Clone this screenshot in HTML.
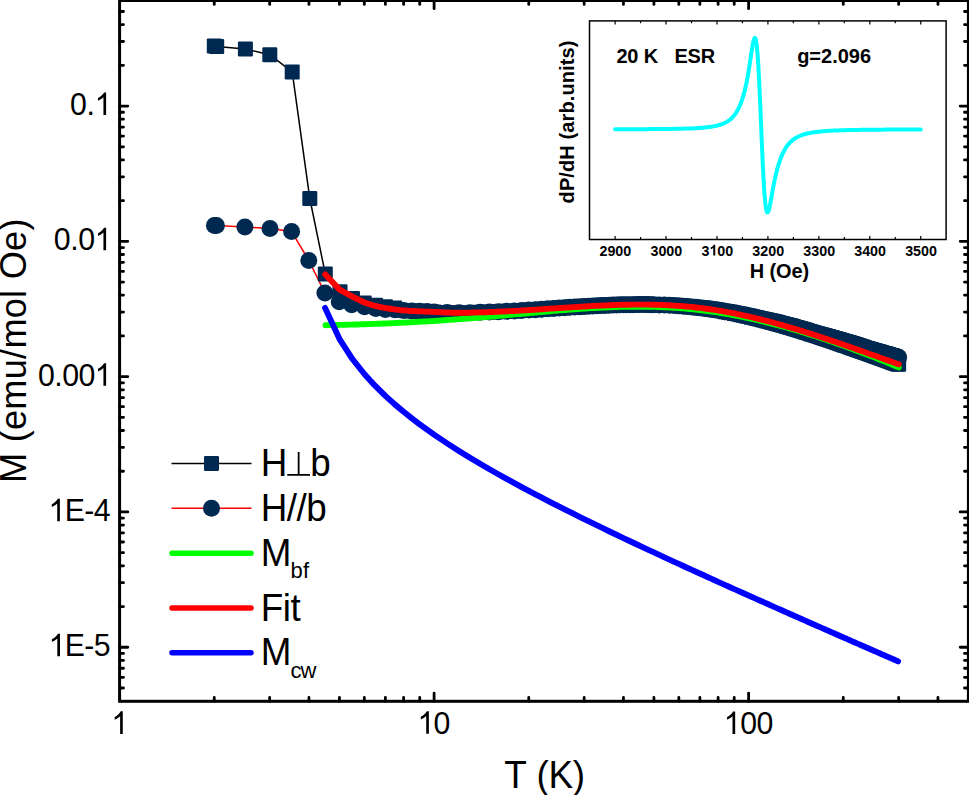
<!DOCTYPE html>
<html><head><meta charset="utf-8"><style>
html,body{margin:0;padding:0;background:#fff;overflow:hidden;}
svg{display:block;}
text{font-family:"Liberation Sans",sans-serif;fill:#000;}
</style></head><body>
<svg width="969" height="795" viewBox="0 0 969 795">
<rect x="0" y="0" width="969" height="795" fill="#fff"/>
<path d="M214.30 45.90 L216.70 46.40 L245.40 48.90 L269.80 54.70 L292.20 71.90 L309.80 198.50 L325.30 273.90 L340.00 291.70 L352.50 298.50 L364.20 303.10 L375.50 305.30 L385.40 306.80 L394.80 308.00 L403.62 310.40 L411.90 310.92 L419.71 311.30 L427.09 311.62 L434.10 311.90 L447.12 312.50 L459.00 312.80 L469.94 312.64 L480.06 312.36 L489.48 312.07 L498.30 311.74 L506.58 311.34 L514.38 310.93 L521.77 310.51 L528.77 310.08 L535.44 309.64 L541.79 309.22 L547.86 308.81 L553.68 308.42 L559.25 308.05 L564.61 307.69 L569.76 307.36 L574.73 307.04 L579.52 306.74 L584.15 306.47 L588.63 306.22 L592.97 305.98 L597.17 305.76 L601.25 305.57 L605.21 305.39 L609.06 305.23 L612.80 305.09 L616.44 304.98 L619.99 304.87 L623.45 304.77 L626.82 304.70 L630.11 304.66 L633.33 304.64 L636.47 304.62 L639.54 304.61 L642.54 304.60 L645.47 304.60 L648.35 304.62 L651.17 304.67 L653.93 304.74 L659.28 304.89 L664.44 305.07 L669.41 305.30 L674.20 305.57 L678.83 305.87 L683.31 306.22 L687.64 306.60 L691.85 307.00 L695.92 307.43 L699.88 307.89 L703.73 308.38 L707.47 308.87 L711.12 309.40 L714.66 309.95 L718.12 310.51 L721.49 311.07 L724.79 311.65 L728.00 312.24 L731.14 312.84 L734.21 313.44 L737.21 314.05 L740.15 314.66 L743.02 315.28 L745.84 315.91 L748.60 316.53 L751.30 317.15 L753.96 317.78 L756.56 318.40 L759.11 319.03 L761.62 319.66 L764.08 320.28 L766.50 320.91 L768.87 321.53 L771.21 322.15 L773.50 322.77 L775.76 323.38 L777.98 324.00 L780.17 324.61 L782.32 325.21 L784.44 325.82 L786.52 326.42 L788.57 327.02 L790.60 327.61 L792.59 328.20 L794.56 328.79 L796.49 329.37 L798.41 329.95 L800.29 330.53 L802.15 331.10 L803.98 331.67 L805.79 332.24 L807.58 332.80 L809.34 333.36 L811.08 333.91 L812.80 334.46 L814.49 335.01 L816.17 335.55 L817.82 336.09 L819.46 336.62 L821.08 337.15 L822.67 337.68 L824.25 338.20 L825.81 338.72 L827.36 339.24 L828.88 339.75 L830.39 340.26 L831.89 340.76 L833.36 341.26 L834.82 341.76 L836.27 342.25 L837.70 342.74 L839.11 343.23 L840.51 343.71 L841.90 344.18 L843.27 344.66 L844.63 345.13 L845.98 345.60 L847.31 346.06 L848.63 346.52 L849.94 346.98 L851.23 347.43 L852.52 347.88 L853.79 348.32 L855.04 348.77 L856.29 349.20 L857.53 349.64 L858.75 350.07 L859.97 350.50 L861.17 350.92 L862.36 351.35 L863.55 351.77 L864.72 352.18 L865.88 352.60 L867.03 353.00 L868.18 353.41 L869.31 353.81 L870.43 354.21 L871.55 354.61 L872.66 355.01 L873.75 355.40 L874.84 355.79 L875.92 356.17 L876.99 356.56 L878.05 356.94 L879.11 357.32 L880.16 357.69 L881.19 358.07 L882.23 358.44 L883.25 358.80 L884.26 359.17 L885.27 359.53 L886.27 359.89 L887.27 360.24 L888.25 360.60 L889.23 360.95 L890.20 361.29 L891.17 361.64 L892.13 361.98 L893.08 362.33 L894.02 362.66 L894.96 363.00 L895.90 363.33 L896.82 363.67 L897.74 364.00 L898.65 364.32" stroke="#000" stroke-width="1.5" fill="none"/>
<path d="M214.40 225.40 L216.40 225.60 L244.90 226.90 L270.00 228.60 L291.60 231.50 L308.80 260.50 L324.90 292.90 L339.20 301.80 L351.70 304.80 L364.50 306.70 L375.80 308.60 L385.40 309.40 L394.80 309.80 L403.62 310.40 L411.90 310.92 L419.71 311.30 L427.09 311.62 L434.10 311.90 L447.12 312.50 L459.00 312.80 L469.94 312.64 L480.06 312.36 L489.48 312.07 L498.30 311.74 L506.58 311.34 L514.38 310.93 L521.77 310.51 L528.77 310.08 L535.44 309.64 L541.79 309.22 L547.86 308.81 L553.68 308.42 L559.25 308.05 L564.61 307.69 L569.76 307.36 L574.73 307.04 L579.52 306.74 L584.15 306.47 L588.63 306.22 L592.97 305.98 L597.17 305.76 L601.25 305.57 L605.21 305.39 L609.06 305.23 L612.80 305.09 L616.44 304.98 L619.99 304.87 L623.45 304.77 L626.82 304.70 L630.11 304.66 L633.33 304.64 L636.47 304.62 L639.54 304.61 L642.54 304.60 L645.47 304.60 L648.35 304.62 L651.17 304.67 L653.93 304.74 L659.28 304.89 L664.44 305.07 L669.41 305.30 L674.20 305.57 L678.83 305.87 L683.31 306.22 L687.64 306.60 L691.85 306.97 L695.92 307.35 L699.88 307.75 L703.73 308.18 L707.47 308.62 L711.12 309.10 L714.66 309.60 L718.12 310.11 L721.49 310.62 L724.79 311.15 L728.00 311.70 L731.14 312.25 L734.21 312.81 L737.21 313.37 L740.15 313.95 L743.02 314.53 L745.84 315.11 L748.60 315.69 L751.30 316.28 L753.96 316.86 L756.56 317.45 L759.11 318.05 L761.62 318.60 L764.08 319.13 L766.50 319.66 L768.87 320.19 L771.21 320.72 L773.50 321.25 L775.76 321.78 L777.98 322.31 L780.17 322.83 L782.32 323.36 L784.44 323.88 L786.52 324.40 L788.57 324.92 L790.60 325.45 L792.59 326.00 L794.56 326.55 L796.49 327.10 L798.41 327.65 L800.29 328.19 L802.15 328.73 L803.98 329.27 L805.79 329.80 L807.58 330.33 L809.34 330.86 L811.08 331.38 L812.80 331.89 L814.49 332.41 L816.17 332.92 L817.82 333.43 L819.46 333.93 L821.08 334.39 L822.67 334.82 L824.25 335.25 L825.81 335.68 L827.36 336.11 L828.88 336.53 L830.39 336.95 L831.89 337.37 L833.36 337.78 L834.82 338.19 L836.27 338.60 L837.70 339.01 L839.11 339.41 L840.51 339.81 L841.90 340.21 L843.27 340.60 L844.63 340.99 L845.98 341.38 L847.31 341.77 L848.63 342.15 L849.94 342.53 L851.23 342.92 L852.52 343.32 L853.79 343.70 L855.04 344.09 L856.29 344.47 L857.53 344.85 L858.75 345.23 L859.97 345.60 L861.17 346.01 L862.36 346.41 L863.55 346.81 L864.72 347.21 L865.88 347.61 L867.03 348.00 L868.18 348.39 L869.31 348.77 L870.43 349.13 L871.55 349.45 L872.66 349.77 L873.75 350.08 L874.84 350.39 L875.92 350.70 L876.99 351.01 L878.05 351.31 L879.11 351.62 L880.16 351.92 L881.19 352.22 L882.23 352.51 L883.25 352.81 L884.26 353.10 L885.27 353.39 L886.27 353.67 L887.27 353.96 L888.25 354.24 L889.23 354.52 L890.20 354.80 L891.17 355.08 L892.13 355.35 L893.08 355.63 L894.02 355.90 L894.96 356.17 L895.90 356.44 L896.82 356.70 L897.74 356.96 L898.65 357.23" stroke="#f00" stroke-width="1.5" fill="none"/>
<g fill="#002952"><rect x="206.80" y="38.40" width="15" height="15" rx="1.2"/><rect x="209.20" y="38.90" width="15" height="15" rx="1.2"/><rect x="237.90" y="41.40" width="15" height="15" rx="1.2"/><rect x="262.30" y="47.20" width="15" height="15" rx="1.2"/><rect x="284.70" y="64.40" width="15" height="15" rx="1.2"/><rect x="302.30" y="191.00" width="15" height="15" rx="1.2"/><rect x="317.80" y="266.40" width="15" height="15" rx="1.2"/><rect x="332.50" y="284.20" width="15" height="15" rx="1.2"/><rect x="345.00" y="291.00" width="15" height="15" rx="1.2"/><rect x="356.70" y="295.60" width="15" height="15" rx="1.2"/><rect x="368.00" y="297.80" width="15" height="15" rx="1.2"/><rect x="377.90" y="299.30" width="15" height="15" rx="1.2"/><rect x="387.30" y="300.50" width="15" height="15" rx="1.2"/><rect x="396.12" y="302.90" width="15" height="15" rx="1.2"/><rect x="404.40" y="303.42" width="15" height="15" rx="1.2"/><rect x="412.21" y="303.80" width="15" height="15" rx="1.2"/><rect x="419.59" y="304.12" width="15" height="15" rx="1.2"/><rect x="426.60" y="304.40" width="15" height="15" rx="1.2"/><rect x="439.62" y="305.00" width="15" height="15" rx="1.2"/><rect x="451.50" y="305.30" width="15" height="15" rx="1.2"/><rect x="462.44" y="305.14" width="15" height="15" rx="1.2"/><rect x="472.56" y="304.86" width="15" height="15" rx="1.2"/><rect x="481.98" y="304.57" width="15" height="15" rx="1.2"/><rect x="490.80" y="304.24" width="15" height="15" rx="1.2"/><rect x="499.08" y="303.84" width="15" height="15" rx="1.2"/><rect x="506.88" y="303.43" width="15" height="15" rx="1.2"/><rect x="514.27" y="303.01" width="15" height="15" rx="1.2"/><rect x="521.27" y="302.58" width="15" height="15" rx="1.2"/><rect x="527.94" y="302.14" width="15" height="15" rx="1.2"/><rect x="534.29" y="301.72" width="15" height="15" rx="1.2"/><rect x="540.36" y="301.31" width="15" height="15" rx="1.2"/><rect x="546.18" y="300.92" width="15" height="15" rx="1.2"/><rect x="551.75" y="300.55" width="15" height="15" rx="1.2"/><rect x="557.11" y="300.19" width="15" height="15" rx="1.2"/><rect x="562.26" y="299.86" width="15" height="15" rx="1.2"/><rect x="567.23" y="299.54" width="15" height="15" rx="1.2"/><rect x="572.02" y="299.24" width="15" height="15" rx="1.2"/><rect x="576.65" y="298.97" width="15" height="15" rx="1.2"/><rect x="581.13" y="298.72" width="15" height="15" rx="1.2"/><rect x="585.47" y="298.48" width="15" height="15" rx="1.2"/><rect x="589.67" y="298.26" width="15" height="15" rx="1.2"/><rect x="593.75" y="298.07" width="15" height="15" rx="1.2"/><rect x="597.71" y="297.89" width="15" height="15" rx="1.2"/><rect x="601.56" y="297.73" width="15" height="15" rx="1.2"/><rect x="605.30" y="297.59" width="15" height="15" rx="1.2"/><rect x="608.94" y="297.48" width="15" height="15" rx="1.2"/><rect x="612.49" y="297.37" width="15" height="15" rx="1.2"/><rect x="615.95" y="297.27" width="15" height="15" rx="1.2"/><rect x="619.32" y="297.20" width="15" height="15" rx="1.2"/><rect x="622.61" y="297.16" width="15" height="15" rx="1.2"/><rect x="625.83" y="297.14" width="15" height="15" rx="1.2"/><rect x="628.97" y="297.12" width="15" height="15" rx="1.2"/><rect x="632.04" y="297.11" width="15" height="15" rx="1.2"/><rect x="635.04" y="297.10" width="15" height="15" rx="1.2"/><rect x="637.97" y="297.10" width="15" height="15" rx="1.2"/><rect x="640.85" y="297.12" width="15" height="15" rx="1.2"/><rect x="643.67" y="297.17" width="15" height="15" rx="1.2"/><rect x="646.43" y="297.24" width="15" height="15" rx="1.2"/><rect x="651.78" y="297.39" width="15" height="15" rx="1.2"/><rect x="656.94" y="297.57" width="15" height="15" rx="1.2"/><rect x="661.91" y="297.80" width="15" height="15" rx="1.2"/><rect x="666.70" y="298.07" width="15" height="15" rx="1.2"/><rect x="671.33" y="298.37" width="15" height="15" rx="1.2"/><rect x="675.81" y="298.72" width="15" height="15" rx="1.2"/><rect x="680.14" y="299.10" width="15" height="15" rx="1.2"/><rect x="684.35" y="299.50" width="15" height="15" rx="1.2"/><rect x="688.42" y="299.93" width="15" height="15" rx="1.2"/><rect x="692.38" y="300.39" width="15" height="15" rx="1.2"/><rect x="696.23" y="300.88" width="15" height="15" rx="1.2"/><rect x="699.97" y="301.37" width="15" height="15" rx="1.2"/><rect x="703.62" y="301.90" width="15" height="15" rx="1.2"/><rect x="707.16" y="302.45" width="15" height="15" rx="1.2"/><rect x="710.62" y="303.01" width="15" height="15" rx="1.2"/><rect x="713.99" y="303.57" width="15" height="15" rx="1.2"/><rect x="717.29" y="304.15" width="15" height="15" rx="1.2"/><rect x="720.50" y="304.74" width="15" height="15" rx="1.2"/><rect x="723.64" y="305.34" width="15" height="15" rx="1.2"/><rect x="726.71" y="305.94" width="15" height="15" rx="1.2"/><rect x="729.71" y="306.55" width="15" height="15" rx="1.2"/><rect x="732.65" y="307.16" width="15" height="15" rx="1.2"/><rect x="735.52" y="307.78" width="15" height="15" rx="1.2"/><rect x="738.34" y="308.41" width="15" height="15" rx="1.2"/><rect x="741.10" y="309.03" width="15" height="15" rx="1.2"/><rect x="743.80" y="309.65" width="15" height="15" rx="1.2"/><rect x="746.46" y="310.28" width="15" height="15" rx="1.2"/><rect x="749.06" y="310.90" width="15" height="15" rx="1.2"/><rect x="751.61" y="311.53" width="15" height="15" rx="1.2"/><rect x="754.12" y="312.16" width="15" height="15" rx="1.2"/><rect x="756.58" y="312.78" width="15" height="15" rx="1.2"/><rect x="759.00" y="313.41" width="15" height="15" rx="1.2"/><rect x="761.37" y="314.03" width="15" height="15" rx="1.2"/><rect x="763.71" y="314.65" width="15" height="15" rx="1.2"/><rect x="766.00" y="315.27" width="15" height="15" rx="1.2"/><rect x="768.26" y="315.88" width="15" height="15" rx="1.2"/><rect x="770.48" y="316.50" width="15" height="15" rx="1.2"/><rect x="772.67" y="317.11" width="15" height="15" rx="1.2"/><rect x="774.82" y="317.71" width="15" height="15" rx="1.2"/><rect x="776.94" y="318.32" width="15" height="15" rx="1.2"/><rect x="779.02" y="318.92" width="15" height="15" rx="1.2"/><rect x="781.07" y="319.52" width="15" height="15" rx="1.2"/><rect x="783.10" y="320.11" width="15" height="15" rx="1.2"/><rect x="785.09" y="320.70" width="15" height="15" rx="1.2"/><rect x="787.06" y="321.29" width="15" height="15" rx="1.2"/><rect x="788.99" y="321.87" width="15" height="15" rx="1.2"/><rect x="790.91" y="322.45" width="15" height="15" rx="1.2"/><rect x="792.79" y="323.03" width="15" height="15" rx="1.2"/><rect x="794.65" y="323.60" width="15" height="15" rx="1.2"/><rect x="796.48" y="324.17" width="15" height="15" rx="1.2"/><rect x="798.29" y="324.74" width="15" height="15" rx="1.2"/><rect x="800.08" y="325.30" width="15" height="15" rx="1.2"/><rect x="801.84" y="325.86" width="15" height="15" rx="1.2"/><rect x="803.58" y="326.41" width="15" height="15" rx="1.2"/><rect x="805.30" y="326.96" width="15" height="15" rx="1.2"/><rect x="806.99" y="327.51" width="15" height="15" rx="1.2"/><rect x="808.67" y="328.05" width="15" height="15" rx="1.2"/><rect x="810.32" y="328.59" width="15" height="15" rx="1.2"/><rect x="811.96" y="329.12" width="15" height="15" rx="1.2"/><rect x="813.58" y="329.65" width="15" height="15" rx="1.2"/><rect x="815.17" y="330.18" width="15" height="15" rx="1.2"/><rect x="816.75" y="330.70" width="15" height="15" rx="1.2"/><rect x="818.31" y="331.22" width="15" height="15" rx="1.2"/><rect x="819.86" y="331.74" width="15" height="15" rx="1.2"/><rect x="821.38" y="332.25" width="15" height="15" rx="1.2"/><rect x="822.89" y="332.76" width="15" height="15" rx="1.2"/><rect x="824.39" y="333.26" width="15" height="15" rx="1.2"/><rect x="825.86" y="333.76" width="15" height="15" rx="1.2"/><rect x="827.32" y="334.26" width="15" height="15" rx="1.2"/><rect x="828.77" y="334.75" width="15" height="15" rx="1.2"/><rect x="830.20" y="335.24" width="15" height="15" rx="1.2"/><rect x="831.61" y="335.73" width="15" height="15" rx="1.2"/><rect x="833.01" y="336.21" width="15" height="15" rx="1.2"/><rect x="834.40" y="336.68" width="15" height="15" rx="1.2"/><rect x="835.77" y="337.16" width="15" height="15" rx="1.2"/><rect x="837.13" y="337.63" width="15" height="15" rx="1.2"/><rect x="838.48" y="338.10" width="15" height="15" rx="1.2"/><rect x="839.81" y="338.56" width="15" height="15" rx="1.2"/><rect x="841.13" y="339.02" width="15" height="15" rx="1.2"/><rect x="842.44" y="339.48" width="15" height="15" rx="1.2"/><rect x="843.73" y="339.93" width="15" height="15" rx="1.2"/><rect x="845.02" y="340.38" width="15" height="15" rx="1.2"/><rect x="846.29" y="340.82" width="15" height="15" rx="1.2"/><rect x="847.54" y="341.27" width="15" height="15" rx="1.2"/><rect x="848.79" y="341.70" width="15" height="15" rx="1.2"/><rect x="850.03" y="342.14" width="15" height="15" rx="1.2"/><rect x="851.25" y="342.57" width="15" height="15" rx="1.2"/><rect x="852.47" y="343.00" width="15" height="15" rx="1.2"/><rect x="853.67" y="343.42" width="15" height="15" rx="1.2"/><rect x="854.86" y="343.85" width="15" height="15" rx="1.2"/><rect x="856.05" y="344.27" width="15" height="15" rx="1.2"/><rect x="857.22" y="344.68" width="15" height="15" rx="1.2"/><rect x="858.38" y="345.10" width="15" height="15" rx="1.2"/><rect x="859.53" y="345.50" width="15" height="15" rx="1.2"/><rect x="860.68" y="345.91" width="15" height="15" rx="1.2"/><rect x="861.81" y="346.31" width="15" height="15" rx="1.2"/><rect x="862.93" y="346.71" width="15" height="15" rx="1.2"/><rect x="864.05" y="347.11" width="15" height="15" rx="1.2"/><rect x="865.16" y="347.51" width="15" height="15" rx="1.2"/><rect x="866.25" y="347.90" width="15" height="15" rx="1.2"/><rect x="867.34" y="348.29" width="15" height="15" rx="1.2"/><rect x="868.42" y="348.67" width="15" height="15" rx="1.2"/><rect x="869.49" y="349.06" width="15" height="15" rx="1.2"/><rect x="870.55" y="349.44" width="15" height="15" rx="1.2"/><rect x="871.61" y="349.82" width="15" height="15" rx="1.2"/><rect x="872.66" y="350.19" width="15" height="15" rx="1.2"/><rect x="873.69" y="350.57" width="15" height="15" rx="1.2"/><rect x="874.73" y="350.94" width="15" height="15" rx="1.2"/><rect x="875.75" y="351.30" width="15" height="15" rx="1.2"/><rect x="876.76" y="351.67" width="15" height="15" rx="1.2"/><rect x="877.77" y="352.03" width="15" height="15" rx="1.2"/><rect x="878.77" y="352.39" width="15" height="15" rx="1.2"/><rect x="879.77" y="352.74" width="15" height="15" rx="1.2"/><rect x="880.75" y="353.10" width="15" height="15" rx="1.2"/><rect x="881.73" y="353.45" width="15" height="15" rx="1.2"/><rect x="882.70" y="353.79" width="15" height="15" rx="1.2"/><rect x="883.67" y="354.14" width="15" height="15" rx="1.2"/><rect x="884.63" y="354.48" width="15" height="15" rx="1.2"/><rect x="885.58" y="354.83" width="15" height="15" rx="1.2"/><rect x="886.52" y="355.16" width="15" height="15" rx="1.2"/><rect x="887.46" y="355.50" width="15" height="15" rx="1.2"/><rect x="888.40" y="355.83" width="15" height="15" rx="1.2"/><rect x="889.32" y="356.17" width="15" height="15" rx="1.2"/><rect x="890.24" y="356.50" width="15" height="15" rx="1.2"/><rect x="891.15" y="356.82" width="15" height="15" rx="1.2"/><circle cx="214.40" cy="225.40" r="8.5"/><circle cx="216.40" cy="225.60" r="8.5"/><circle cx="244.90" cy="226.90" r="8.5"/><circle cx="270.00" cy="228.60" r="8.5"/><circle cx="291.60" cy="231.50" r="8.5"/><circle cx="308.80" cy="260.50" r="8.5"/><circle cx="324.90" cy="292.90" r="8.5"/><circle cx="339.20" cy="301.80" r="8.5"/><circle cx="351.70" cy="304.80" r="8.5"/><circle cx="364.50" cy="306.70" r="8.5"/><circle cx="375.80" cy="308.60" r="8.5"/><circle cx="385.40" cy="309.40" r="8.5"/><circle cx="394.80" cy="309.80" r="8.5"/><circle cx="403.62" cy="310.40" r="8.5"/><circle cx="411.90" cy="310.92" r="8.5"/><circle cx="419.71" cy="311.30" r="8.5"/><circle cx="427.09" cy="311.62" r="8.5"/><circle cx="434.10" cy="311.90" r="8.5"/><circle cx="447.12" cy="312.50" r="8.5"/><circle cx="459.00" cy="312.80" r="8.5"/><circle cx="469.94" cy="312.64" r="8.5"/><circle cx="480.06" cy="312.36" r="8.5"/><circle cx="489.48" cy="312.07" r="8.5"/><circle cx="498.30" cy="311.74" r="8.5"/><circle cx="506.58" cy="311.34" r="8.5"/><circle cx="514.38" cy="310.93" r="8.5"/><circle cx="521.77" cy="310.51" r="8.5"/><circle cx="528.77" cy="310.08" r="8.5"/><circle cx="535.44" cy="309.64" r="8.5"/><circle cx="541.79" cy="309.22" r="8.5"/><circle cx="547.86" cy="308.81" r="8.5"/><circle cx="553.68" cy="308.42" r="8.5"/><circle cx="559.25" cy="308.05" r="8.5"/><circle cx="564.61" cy="307.69" r="8.5"/><circle cx="569.76" cy="307.36" r="8.5"/><circle cx="574.73" cy="307.04" r="8.5"/><circle cx="579.52" cy="306.74" r="8.5"/><circle cx="584.15" cy="306.47" r="8.5"/><circle cx="588.63" cy="306.22" r="8.5"/><circle cx="592.97" cy="305.98" r="8.5"/><circle cx="597.17" cy="305.76" r="8.5"/><circle cx="601.25" cy="305.57" r="8.5"/><circle cx="605.21" cy="305.39" r="8.5"/><circle cx="609.06" cy="305.23" r="8.5"/><circle cx="612.80" cy="305.09" r="8.5"/><circle cx="616.44" cy="304.98" r="8.5"/><circle cx="619.99" cy="304.87" r="8.5"/><circle cx="623.45" cy="304.77" r="8.5"/><circle cx="626.82" cy="304.70" r="8.5"/><circle cx="630.11" cy="304.66" r="8.5"/><circle cx="633.33" cy="304.64" r="8.5"/><circle cx="636.47" cy="304.62" r="8.5"/><circle cx="639.54" cy="304.61" r="8.5"/><circle cx="642.54" cy="304.60" r="8.5"/><circle cx="645.47" cy="304.60" r="8.5"/><circle cx="648.35" cy="304.62" r="8.5"/><circle cx="651.17" cy="304.67" r="8.5"/><circle cx="653.93" cy="304.74" r="8.5"/><circle cx="659.28" cy="304.89" r="8.5"/><circle cx="664.44" cy="305.07" r="8.5"/><circle cx="669.41" cy="305.30" r="8.5"/><circle cx="674.20" cy="305.57" r="8.5"/><circle cx="678.83" cy="305.87" r="8.5"/><circle cx="683.31" cy="306.22" r="8.5"/><circle cx="687.64" cy="306.60" r="8.5"/><circle cx="691.85" cy="306.97" r="8.5"/><circle cx="695.92" cy="307.35" r="8.5"/><circle cx="699.88" cy="307.75" r="8.5"/><circle cx="703.73" cy="308.18" r="8.5"/><circle cx="707.47" cy="308.62" r="8.5"/><circle cx="711.12" cy="309.10" r="8.5"/><circle cx="714.66" cy="309.60" r="8.5"/><circle cx="718.12" cy="310.11" r="8.5"/><circle cx="721.49" cy="310.62" r="8.5"/><circle cx="724.79" cy="311.15" r="8.5"/><circle cx="728.00" cy="311.70" r="8.5"/><circle cx="731.14" cy="312.25" r="8.5"/><circle cx="734.21" cy="312.81" r="8.5"/><circle cx="737.21" cy="313.37" r="8.5"/><circle cx="740.15" cy="313.95" r="8.5"/><circle cx="743.02" cy="314.53" r="8.5"/><circle cx="745.84" cy="315.11" r="8.5"/><circle cx="748.60" cy="315.69" r="8.5"/><circle cx="751.30" cy="316.28" r="8.5"/><circle cx="753.96" cy="316.86" r="8.5"/><circle cx="756.56" cy="317.45" r="8.5"/><circle cx="759.11" cy="318.05" r="8.5"/><circle cx="761.62" cy="318.60" r="8.5"/><circle cx="764.08" cy="319.13" r="8.5"/><circle cx="766.50" cy="319.66" r="8.5"/><circle cx="768.87" cy="320.19" r="8.5"/><circle cx="771.21" cy="320.72" r="8.5"/><circle cx="773.50" cy="321.25" r="8.5"/><circle cx="775.76" cy="321.78" r="8.5"/><circle cx="777.98" cy="322.31" r="8.5"/><circle cx="780.17" cy="322.83" r="8.5"/><circle cx="782.32" cy="323.36" r="8.5"/><circle cx="784.44" cy="323.88" r="8.5"/><circle cx="786.52" cy="324.40" r="8.5"/><circle cx="788.57" cy="324.92" r="8.5"/><circle cx="790.60" cy="325.45" r="8.5"/><circle cx="792.59" cy="326.00" r="8.5"/><circle cx="794.56" cy="326.55" r="8.5"/><circle cx="796.49" cy="327.10" r="8.5"/><circle cx="798.41" cy="327.65" r="8.5"/><circle cx="800.29" cy="328.19" r="8.5"/><circle cx="802.15" cy="328.73" r="8.5"/><circle cx="803.98" cy="329.27" r="8.5"/><circle cx="805.79" cy="329.80" r="8.5"/><circle cx="807.58" cy="330.33" r="8.5"/><circle cx="809.34" cy="330.86" r="8.5"/><circle cx="811.08" cy="331.38" r="8.5"/><circle cx="812.80" cy="331.89" r="8.5"/><circle cx="814.49" cy="332.41" r="8.5"/><circle cx="816.17" cy="332.92" r="8.5"/><circle cx="817.82" cy="333.43" r="8.5"/><circle cx="819.46" cy="333.93" r="8.5"/><circle cx="821.08" cy="334.39" r="8.5"/><circle cx="822.67" cy="334.82" r="8.5"/><circle cx="824.25" cy="335.25" r="8.5"/><circle cx="825.81" cy="335.68" r="8.5"/><circle cx="827.36" cy="336.11" r="8.5"/><circle cx="828.88" cy="336.53" r="8.5"/><circle cx="830.39" cy="336.95" r="8.5"/><circle cx="831.89" cy="337.37" r="8.5"/><circle cx="833.36" cy="337.78" r="8.5"/><circle cx="834.82" cy="338.19" r="8.5"/><circle cx="836.27" cy="338.60" r="8.5"/><circle cx="837.70" cy="339.01" r="8.5"/><circle cx="839.11" cy="339.41" r="8.5"/><circle cx="840.51" cy="339.81" r="8.5"/><circle cx="841.90" cy="340.21" r="8.5"/><circle cx="843.27" cy="340.60" r="8.5"/><circle cx="844.63" cy="340.99" r="8.5"/><circle cx="845.98" cy="341.38" r="8.5"/><circle cx="847.31" cy="341.77" r="8.5"/><circle cx="848.63" cy="342.15" r="8.5"/><circle cx="849.94" cy="342.53" r="8.5"/><circle cx="851.23" cy="342.92" r="8.5"/><circle cx="852.52" cy="343.32" r="8.5"/><circle cx="853.79" cy="343.70" r="8.5"/><circle cx="855.04" cy="344.09" r="8.5"/><circle cx="856.29" cy="344.47" r="8.5"/><circle cx="857.53" cy="344.85" r="8.5"/><circle cx="858.75" cy="345.23" r="8.5"/><circle cx="859.97" cy="345.60" r="8.5"/><circle cx="861.17" cy="346.01" r="8.5"/><circle cx="862.36" cy="346.41" r="8.5"/><circle cx="863.55" cy="346.81" r="8.5"/><circle cx="864.72" cy="347.21" r="8.5"/><circle cx="865.88" cy="347.61" r="8.5"/><circle cx="867.03" cy="348.00" r="8.5"/><circle cx="868.18" cy="348.39" r="8.5"/><circle cx="869.31" cy="348.77" r="8.5"/><circle cx="870.43" cy="349.13" r="8.5"/><circle cx="871.55" cy="349.45" r="8.5"/><circle cx="872.66" cy="349.77" r="8.5"/><circle cx="873.75" cy="350.08" r="8.5"/><circle cx="874.84" cy="350.39" r="8.5"/><circle cx="875.92" cy="350.70" r="8.5"/><circle cx="876.99" cy="351.01" r="8.5"/><circle cx="878.05" cy="351.31" r="8.5"/><circle cx="879.11" cy="351.62" r="8.5"/><circle cx="880.16" cy="351.92" r="8.5"/><circle cx="881.19" cy="352.22" r="8.5"/><circle cx="882.23" cy="352.51" r="8.5"/><circle cx="883.25" cy="352.81" r="8.5"/><circle cx="884.26" cy="353.10" r="8.5"/><circle cx="885.27" cy="353.39" r="8.5"/><circle cx="886.27" cy="353.67" r="8.5"/><circle cx="887.27" cy="353.96" r="8.5"/><circle cx="888.25" cy="354.24" r="8.5"/><circle cx="889.23" cy="354.52" r="8.5"/><circle cx="890.20" cy="354.80" r="8.5"/><circle cx="891.17" cy="355.08" r="8.5"/><circle cx="892.13" cy="355.35" r="8.5"/><circle cx="893.08" cy="355.63" r="8.5"/><circle cx="894.02" cy="355.90" r="8.5"/><circle cx="894.96" cy="356.17" r="8.5"/><circle cx="895.90" cy="356.44" r="8.5"/><circle cx="896.82" cy="356.70" r="8.5"/><circle cx="897.74" cy="356.96" r="8.5"/><circle cx="898.65" cy="357.23" r="8.5"/></g>
<path d="M325.50 325.18 L327.50 325.14 L329.50 325.10 L331.50 325.06 L333.50 325.02 L335.50 324.98 L337.50 324.94 L339.50 324.90 L341.50 324.85 L343.50 324.81 L345.50 324.76 L347.50 324.71 L349.50 324.66 L351.50 324.60 L353.50 324.55 L355.50 324.49 L357.50 324.43 L359.50 324.37 L361.50 324.31 L363.50 324.24 L365.50 324.18 L367.50 324.11 L369.50 324.05 L371.50 323.98 L373.50 323.90 L375.50 323.83 L377.50 323.76 L379.50 323.68 L381.50 323.60 L383.50 323.52 L385.50 323.44 L387.50 323.36 L389.50 323.27 L391.50 323.19 L393.50 323.10 L395.50 323.01 L397.50 322.91 L399.50 322.82 L401.50 322.73 L403.50 322.63 L405.50 322.53 L407.50 322.43 L409.50 322.33 L411.50 322.22 L413.50 322.12 L415.50 322.01 L417.50 321.90 L419.50 321.79 L421.50 321.67 L423.50 321.56 L425.50 321.44 L427.50 321.32 L429.50 321.20 L431.50 321.08 L433.50 320.95 L435.50 320.83 L437.50 320.70 L439.50 320.57 L441.50 320.44 L443.50 320.30 L445.50 320.17 L447.50 320.03 L449.50 319.89 L451.50 319.75 L453.50 319.61 L455.50 319.47 L457.50 319.32 L459.50 319.17 L461.50 319.02 L463.50 318.87 L465.50 318.72 L467.50 318.57 L469.50 318.41 L471.50 318.25 L473.50 318.09 L475.50 317.93 L477.50 317.76 L479.50 317.60 L481.50 317.43 L483.50 317.26 L485.50 317.09 L487.50 316.92 L489.50 316.74 L491.50 316.56 L493.50 316.39 L495.50 316.20 L497.50 316.02 L499.50 315.84 L501.50 315.66 L503.50 315.47 L505.50 315.29 L507.50 315.11 L509.50 314.92 L511.50 314.74 L513.50 314.55 L515.50 314.37 L517.50 314.18 L519.50 313.99 L521.50 313.81 L523.50 313.62 L525.50 313.44 L527.50 313.26 L529.50 313.07 L531.50 312.89 L533.50 312.70 L535.50 312.52 L537.50 312.34 L539.50 312.15 L541.50 311.97 L543.50 311.80 L545.50 311.62 L547.50 311.45 L549.50 311.27 L551.50 311.10 L553.50 310.93 L555.50 310.76 L557.50 310.59 L559.50 310.43 L561.50 310.27 L563.50 310.11 L565.50 309.95 L567.50 309.80 L569.50 309.64 L571.50 309.49 L573.50 309.34 L575.50 309.20 L577.50 309.05 L579.50 308.91 L581.50 308.78 L583.50 308.65 L585.50 308.52 L587.50 308.40 L589.50 308.28 L591.50 308.16 L593.50 308.04 L595.50 307.93 L597.50 307.82 L599.50 307.71 L601.50 307.62 L603.50 307.52 L605.50 307.44 L607.50 307.36 L609.50 307.28 L611.50 307.19 L613.50 307.11 L615.50 307.04 L617.50 306.97 L619.50 306.91 L621.50 306.86 L623.50 306.82 L625.50 306.80 L627.50 306.78 L629.50 306.77 L631.50 306.76 L633.50 306.75 L635.50 306.74 L637.50 306.73 L639.50 306.72 L641.50 306.71 L643.50 306.71 L645.50 306.71 L647.50 306.72 L649.50 306.74 L651.50 306.78 L653.50 306.83 L655.50 306.89 L657.50 306.96 L659.50 307.03 L661.50 307.11 L663.50 307.19 L665.50 307.27 L667.50 307.36 L669.50 307.46 L671.50 307.57 L673.50 307.69 L675.50 307.82 L677.50 307.97 L679.50 308.11 L681.50 308.27 L683.50 308.43 L685.50 308.59 L687.50 308.76 L689.50 308.94 L691.50 309.14 L693.50 309.34 L695.50 309.56 L697.50 309.78 L699.50 310.01 L701.50 310.25 L703.50 310.49 L705.50 310.74 L707.50 311.00 L709.50 311.26 L711.50 311.54 L713.50 311.83 L715.50 312.13 L717.50 312.44 L719.50 312.75 L721.50 313.07 L723.50 313.40 L725.50 313.73 L727.50 314.07 L729.50 314.42 L731.50 314.78 L733.50 315.15 L735.50 315.52 L737.50 315.91 L739.50 316.30 L741.50 316.70 L743.50 317.10 L745.50 317.51 L747.50 317.93 L749.50 318.35 L751.50 318.79 L753.50 319.23 L755.50 319.68 L757.50 320.14 L759.50 320.60 L761.50 321.07 L763.50 321.55 L765.50 322.03 L767.50 322.52 L769.50 323.01 L771.50 323.52 L773.50 324.03 L775.50 324.55 L777.50 325.07 L779.50 325.60 L781.50 326.14 L783.50 326.68 L785.50 327.23 L787.50 327.78 L789.50 328.35 L791.50 328.92 L793.50 329.49 L795.50 330.08 L797.50 330.67 L799.50 331.26 L801.50 331.86 L803.50 332.47 L805.50 333.08 L807.50 333.70 L809.50 334.32 L811.50 334.95 L813.50 335.59 L815.50 336.23 L817.50 336.88 L819.50 337.53 L821.50 338.19 L823.50 338.85 L825.50 339.52 L827.50 340.19 L829.50 340.87 L831.50 341.56 L833.50 342.25 L835.50 342.95 L837.50 343.65 L839.50 344.35 L841.50 345.06 L843.50 345.78 L845.50 346.50 L847.50 347.22 L849.50 347.95 L851.50 348.69 L853.50 349.43 L855.50 350.18 L857.50 350.93 L859.50 351.68 L861.50 352.44 L863.50 353.20 L865.50 353.97 L867.50 354.74 L869.50 355.52 L871.50 356.30 L873.50 357.09 L875.50 357.88 L877.50 358.67 L879.50 359.47 L881.50 360.28 L883.50 361.08 L885.50 361.89 L887.50 362.70 L889.50 363.53 L891.50 364.35 L893.50 365.18 L895.50 366.01 L897.50 366.84 L898.70 367.34" stroke="#00ff00" stroke-width="5.9" fill="none" stroke-linecap="round" stroke-linejoin="round"/>
<path d="M325.30 274.50 L339.60 289.60 L352.40 296.60 L364.30 302.50 L364.30 302.50 L366.30 303.14 L368.30 303.79 L370.30 304.45 L372.30 305.07 L374.30 305.64 L376.30 306.14 L378.30 306.60 L380.30 307.03 L382.30 307.43 L384.30 307.81 L386.30 308.15 L388.30 308.48 L390.30 308.78 L392.30 309.07 L394.30 309.34 L396.30 309.59 L398.30 309.85 L400.30 310.08 L402.30 310.29 L404.30 310.45 L406.30 310.59 L408.30 310.72 L410.30 310.84 L412.30 310.94 L414.30 311.04 L416.30 311.14 L418.30 311.23 L420.30 311.33 L422.30 311.42 L424.30 311.51 L426.30 311.59 L428.30 311.67 L430.30 311.75 L432.30 311.83 L434.30 311.91 L436.30 311.99 L438.30 312.08 L440.30 312.18 L442.30 312.27 L444.30 312.37 L446.30 312.46 L448.30 312.55 L450.30 312.62 L452.30 312.69 L454.30 312.74 L456.30 312.78 L458.30 312.80 L460.30 312.80 L462.30 312.78 L464.30 312.76 L466.30 312.72 L468.30 312.68 L470.30 312.63 L472.30 312.57 L474.30 312.52 L476.30 312.46 L478.30 312.41 L480.30 312.35 L482.30 312.30 L484.30 312.24 L486.30 312.18 L488.30 312.11 L490.30 312.04 L492.30 311.97 L494.30 311.90 L496.30 311.82 L498.30 311.74 L500.30 311.65 L502.30 311.55 L504.30 311.46 L506.30 311.36 L508.30 311.26 L510.30 311.15 L512.30 311.05 L514.30 310.94 L516.30 310.83 L518.30 310.71 L520.30 310.59 L522.30 310.47 L524.30 310.35 L526.30 310.23 L528.30 310.11 L530.30 309.98 L532.30 309.85 L534.30 309.72 L536.30 309.58 L538.30 309.45 L540.30 309.32 L542.30 309.19 L544.30 309.05 L546.30 308.92 L548.30 308.78 L550.30 308.65 L552.30 308.51 L554.30 308.38 L556.30 308.24 L558.30 308.11 L560.30 307.98 L562.30 307.84 L564.30 307.71 L566.30 307.58 L568.30 307.45 L570.30 307.32 L572.30 307.19 L574.30 307.07 L576.30 306.94 L578.30 306.82 L580.30 306.70 L582.30 306.58 L584.30 306.46 L586.30 306.35 L588.30 306.23 L590.30 306.12 L592.30 306.02 L594.30 305.91 L596.30 305.81 L598.30 305.71 L600.30 305.62 L602.30 305.52 L604.30 305.43 L606.30 305.35 L608.30 305.26 L610.30 305.18 L612.30 305.11 L614.30 305.04 L616.30 304.98 L618.30 304.92 L620.30 304.86 L622.30 304.80 L624.30 304.75 L626.30 304.71 L628.30 304.68 L630.30 304.66 L632.30 304.64 L634.30 304.63 L636.30 304.62 L638.30 304.61 L640.30 304.61 L642.30 304.60 L644.30 304.60 L646.30 304.60 L648.30 304.62 L650.30 304.65 L652.30 304.70 L654.30 304.75 L656.30 304.80 L658.30 304.86 L660.30 304.92 L662.30 304.98 L664.30 305.06 L666.30 305.15 L668.30 305.25 L670.30 305.35 L672.30 305.46 L674.30 305.58 L676.30 305.70 L678.30 305.83 L680.30 305.98 L682.30 306.14 L684.30 306.31 L686.30 306.48 L688.30 306.66 L690.30 306.85 L692.30 307.05 L694.30 307.25 L696.30 307.47 L698.30 307.70 L700.30 307.94 L702.30 308.19 L704.30 308.45 L706.30 308.71 L708.30 308.99 L710.30 309.28 L712.30 309.58 L714.30 309.89 L716.30 310.21 L718.30 310.54 L720.30 310.87 L722.30 311.21 L724.30 311.56 L726.30 311.93 L728.30 312.30 L730.30 312.68 L732.30 313.07 L734.30 313.46 L736.30 313.86 L738.30 314.27 L740.30 314.69 L742.30 315.13 L744.30 315.56 L746.30 316.01 L748.30 316.46 L750.30 316.92 L752.30 317.38 L754.30 317.86 L756.30 318.34 L758.30 318.83 L760.30 319.33 L762.30 319.83 L764.30 320.34 L766.30 320.86 L768.30 321.38 L770.30 321.91 L772.30 322.44 L774.30 322.98 L776.30 323.53 L778.30 324.09 L780.30 324.64 L782.30 325.21 L784.30 325.78 L786.30 326.35 L788.30 326.94 L790.30 327.52 L792.30 328.11 L794.30 328.71 L796.30 329.31 L798.30 329.92 L800.30 330.53 L802.30 331.15 L804.30 331.77 L806.30 332.40 L808.30 333.03 L810.30 333.67 L812.30 334.30 L814.30 334.95 L816.30 335.59 L818.30 336.24 L820.30 336.90 L822.30 337.56 L824.30 338.22 L826.30 338.88 L828.30 339.55 L830.30 340.22 L832.30 340.90 L834.30 341.58 L836.30 342.26 L838.30 342.95 L840.30 343.63 L842.30 344.32 L844.30 345.01 L846.30 345.71 L848.30 346.40 L850.30 347.10 L852.30 347.80 L854.30 348.50 L856.30 349.21 L858.30 349.91 L860.30 350.62 L862.30 351.32 L864.30 352.03 L866.30 352.74 L868.30 353.46 L870.30 354.17 L872.30 354.88 L874.30 355.59 L876.30 356.31 L878.30 357.03 L880.30 357.74 L882.30 358.46 L884.30 359.18 L886.30 359.90 L888.30 360.61 L890.30 361.33 L892.30 362.05 L894.30 362.76 L896.30 363.48 L898.30 364.20 L898.70 364.34" stroke="#ff0000" stroke-width="5.9" fill="none" stroke-linecap="round" stroke-linejoin="round"/>
<path d="M325.04 307.87 L339.43 338.86 L352.44 359.04 L364.33 374.04 L375.26 385.97 L385.38 395.89 L394.81 404.37 L403.62 411.78 L411.90 418.36 L419.71 424.28 L427.09 429.65 L434.10 434.58 L447.12 443.34 L459.00 450.96 L469.94 457.71 L480.06 463.76 L489.48 469.24 L498.30 474.26 L506.58 478.88 L514.38 483.16 L521.77 487.16 L528.77 490.90 L535.44 494.41 L541.79 497.73 L547.86 500.87 L553.68 503.85 L559.25 506.69 L564.61 509.39 L569.76 511.98 L574.73 514.46 L579.52 516.83 L584.15 519.12 L592.97 523.44 L601.25 527.46 L609.06 531.23 L616.44 534.77 L623.45 538.10 L630.11 541.26 L636.47 544.26 L642.54 547.11 L648.35 549.83 L653.93 552.43 L659.28 554.92 L664.44 557.31 L669.41 559.60 L674.20 561.81 L678.83 563.94 L683.31 565.99 L687.64 567.98 L691.85 569.90 L695.92 571.76 L699.88 573.56 L703.73 575.31 L707.47 577.00 L711.12 578.65 L714.66 580.26 L718.12 581.82 L721.49 583.34 L724.79 584.83 L728.00 586.27 L731.14 587.69 L734.21 589.07 L737.21 590.41 L740.15 591.73 L743.02 593.02 L745.84 594.28 L748.60 595.51 L751.30 596.72 L753.96 597.91 L756.56 599.07 L759.11 600.21 L761.62 601.32 L764.08 602.42 L766.50 603.50 L768.87 604.55 L771.21 605.59 L773.50 606.61 L775.76 607.61 L777.98 608.60 L780.17 609.57 L782.32 610.52 L784.44 611.46 L786.52 612.38 L788.57 613.29 L790.60 614.19 L792.59 615.07 L794.56 615.94 L796.49 616.80 L798.41 617.64 L800.29 618.47 L802.15 619.29 L803.98 620.10 L805.79 620.90 L807.58 621.69 L809.34 622.47 L811.08 623.23 L812.80 623.99 L814.49 624.74 L816.17 625.48 L817.82 626.20 L819.46 626.92 L821.08 627.64 L822.67 628.34 L824.25 629.03 L825.81 629.72 L827.36 630.40 L828.88 631.07 L830.39 631.73 L831.89 632.39 L833.36 633.04 L834.82 633.68 L836.27 634.31 L837.70 634.94 L839.11 635.56 L840.51 636.18 L841.90 636.78 L843.27 637.39 L844.63 637.98 L845.98 638.57 L847.31 639.16 L848.63 639.73 L849.94 640.31 L851.23 640.87 L852.52 641.44 L853.79 641.99 L855.04 642.54 L856.29 643.09 L857.53 643.63 L858.75 644.17 L859.97 644.70 L861.17 645.22 L862.36 645.75 L863.55 646.26 L864.72 646.78 L865.88 647.28 L867.03 647.79 L868.18 648.29 L869.31 648.78 L870.43 649.27 L871.55 649.76 L872.66 650.24 L873.75 650.72 L874.84 651.20 L875.92 651.67 L876.99 652.14 L878.05 652.60 L879.11 653.06 L880.16 653.52 L881.19 653.97 L882.23 654.42 L883.25 654.87 L884.26 655.31 L885.27 655.75 L886.27 656.19 L887.27 656.62 L888.25 657.05 L889.23 657.48 L890.20 657.90 L891.17 658.32 L892.13 658.74 L893.08 659.16 L894.02 659.57 L894.96 659.98 L895.90 660.38 L896.82 660.79 L897.74 661.19 L898.06 661.33" stroke="#0000ff" stroke-width="5.9" fill="none" stroke-linecap="round" stroke-linejoin="round"/>
<path d="M214.27 701.30V697.40M214.27 0.50V4.40M269.65 701.30V697.40M269.65 0.50V4.40M308.95 701.30V697.40M308.95 0.50V4.40M339.43 701.30V697.40M339.43 0.50V4.40M364.33 701.30V697.40M364.33 0.50V4.40M385.38 701.30V697.40M385.38 0.50V4.40M403.62 701.30V697.40M403.62 0.50V4.40M419.71 701.30V697.40M419.71 0.50V4.40M434.10 701.30V693.10M434.10 0.50V8.70M528.77 701.30V697.40M528.77 0.50V4.40M584.15 701.30V697.40M584.15 0.50V4.40M623.45 701.30V697.40M623.45 0.50V4.40M653.93 701.30V697.40M653.93 0.50V4.40M678.83 701.30V697.40M678.83 0.50V4.40M699.88 701.30V697.40M699.88 0.50V4.40M718.12 701.30V697.40M718.12 0.50V4.40M734.21 701.30V697.40M734.21 0.50V4.40M748.60 701.30V693.10M748.60 0.50V8.70M843.27 701.30V697.40M843.27 0.50V4.40M898.65 701.30V697.40M898.65 0.50V4.40M937.95 701.30V697.40M937.95 0.50V4.40M119.60 688.00H123.50M968.40 688.00H964.50M119.60 677.29H123.50M968.40 677.29H964.50M119.60 668.23H123.50M968.40 668.23H964.50M119.60 660.38H123.50M968.40 660.38H964.50M119.60 653.46H123.50M968.40 653.46H964.50M119.60 647.27H127.80M968.40 647.27H960.20M119.60 606.54H123.50M968.40 606.54H964.50M119.60 582.72H123.50M968.40 582.72H964.50M119.60 565.81H123.50M968.40 565.81H964.50M119.60 552.70H123.50M968.40 552.70H964.50M119.60 541.99H123.50M968.40 541.99H964.50M119.60 532.93H123.50M968.40 532.93H964.50M119.60 525.08H123.50M968.40 525.08H964.50M119.60 518.16H123.50M968.40 518.16H964.50M119.60 511.97H127.80M968.40 511.97H960.20M119.60 471.24H123.50M968.40 471.24H964.50M119.60 447.42H123.50M968.40 447.42H964.50M119.60 430.51H123.50M968.40 430.51H964.50M119.60 417.40H123.50M968.40 417.40H964.50M119.60 406.69H123.50M968.40 406.69H964.50M119.60 397.63H123.50M968.40 397.63H964.50M119.60 389.78H123.50M968.40 389.78H964.50M119.60 382.86H123.50M968.40 382.86H964.50M119.60 376.67H127.80M968.40 376.67H960.20M119.60 335.94H123.50M968.40 335.94H964.50M119.60 312.12H123.50M968.40 312.12H964.50M119.60 295.21H123.50M968.40 295.21H964.50M119.60 282.10H123.50M968.40 282.10H964.50M119.60 271.39H123.50M968.40 271.39H964.50M119.60 262.33H123.50M968.40 262.33H964.50M119.60 254.48H123.50M968.40 254.48H964.50M119.60 247.56H123.50M968.40 247.56H964.50M119.60 241.37H127.80M968.40 241.37H960.20M119.60 200.64H123.50M968.40 200.64H964.50M119.60 176.82H123.50M968.40 176.82H964.50M119.60 159.91H123.50M968.40 159.91H964.50M119.60 146.80H123.50M968.40 146.80H964.50M119.60 136.09H123.50M968.40 136.09H964.50M119.60 127.03H123.50M968.40 127.03H964.50M119.60 119.18H123.50M968.40 119.18H964.50M119.60 112.26H123.50M968.40 112.26H964.50M119.60 106.07H127.80M968.40 106.07H960.20M119.60 65.34H123.50M968.40 65.34H964.50M119.60 41.52H123.50M968.40 41.52H964.50M119.60 24.61H123.50M968.40 24.61H964.50M119.60 11.50H123.50M968.40 11.50H964.50" stroke="#000" stroke-width="2.8" stroke-linecap="round" fill="none"/>
<rect x="119.6" y="0.5" width="848.80" height="700.80" fill="none" stroke="#000" stroke-width="3"/>
<g transform="translate(0,114.95) scale(1,1.0407)"><text x="69.92 86.58" y="0" font-size="30.3">0.</text><path transform="translate(94.81,0) scale(30.300,-30.300)" d="M0.3726 0H0.2847V0.5601Q0.2529 0.5298 0.2002 0.4990Q0.1479 0.4683 0.1060 0.4526V0.5376Q0.1660 0.5659 0.2236 0.6182Q0.2813 0.6704 0.3052 0.7158H0.3726Z"/></g>
<g transform="translate(0,250.25) scale(1,1.0407)"><text x="53.82 70.29 78.33" y="0" font-size="30.3">0.0</text><path transform="translate(94.81,0) scale(30.300,-30.300)" d="M0.3726 0H0.2847V0.5601Q0.2529 0.5298 0.2002 0.4990Q0.1479 0.4683 0.1060 0.4526V0.5376Q0.1660 0.5659 0.2236 0.6182Q0.2813 0.6704 0.3052 0.7158H0.3726Z"/></g>
<g transform="translate(0,385.75) scale(1,1.0407)"><text x="37.92 54.25 62.15 78.48" y="0" font-size="30.3">0.00</text><path transform="translate(94.81,0) scale(30.300,-30.300)" d="M0.3726 0H0.2847V0.5601Q0.2529 0.5298 0.2002 0.4990Q0.1479 0.4683 0.1060 0.4526V0.5376Q0.1660 0.5659 0.2236 0.6182Q0.2813 0.6704 0.3052 0.7158H0.3726Z"/></g>
<g transform="translate(0,521.20) scale(1,1.0407)"><text x="64.77 84.31 93.74" y="0" font-size="30.3">E-4</text><path transform="translate(48.59,0) scale(30.300,-30.300)" d="M0.3726 0H0.2847V0.5601Q0.2529 0.5298 0.2002 0.4990Q0.1479 0.4683 0.1060 0.4526V0.5376Q0.1660 0.5659 0.2236 0.6182Q0.2813 0.6704 0.3052 0.7158H0.3726Z"/></g>
<g transform="translate(0,656.20) scale(1,1.0407)"><text x="64.83 84.34 93.72" y="0" font-size="30.3">E-5</text><path transform="translate(48.69,0) scale(30.300,-30.300)" d="M0.3726 0H0.2847V0.5601Q0.2529 0.5298 0.2002 0.4990Q0.1479 0.4683 0.1060 0.4526V0.5376Q0.1660 0.5659 0.2236 0.6182Q0.2813 0.6704 0.3052 0.7158H0.3726Z"/></g>
<g transform="translate(0,733.90) scale(1,1.0407)"><path transform="translate(111.49,0) scale(30.300,-30.300)" d="M0.3726 0H0.2847V0.5601Q0.2529 0.5298 0.2002 0.4990Q0.1479 0.4683 0.1060 0.4526V0.5376Q0.1660 0.5659 0.2236 0.6182Q0.2813 0.6704 0.3052 0.7158H0.3726Z"/></g>
<g transform="translate(0,733.70) scale(1,1.0407)"><text x="433.43" y="0" font-size="30.3">0</text><path transform="translate(417.59,0) scale(30.300,-30.300)" d="M0.3726 0H0.2847V0.5601Q0.2529 0.5298 0.2002 0.4990Q0.1479 0.4683 0.1060 0.4526V0.5376Q0.1660 0.5659 0.2236 0.6182Q0.2813 0.6704 0.3052 0.7158H0.3726Z"/></g>
<g transform="translate(0,734.00) scale(1,1.0407)"><text x="740.16 756.43" y="0" font-size="30.3">00</text><path transform="translate(723.89,0) scale(30.300,-30.300)" d="M0.3726 0H0.2847V0.5601Q0.2529 0.5298 0.2002 0.4990Q0.1479 0.4683 0.1060 0.4526V0.5376Q0.1660 0.5659 0.2236 0.6182Q0.2813 0.6704 0.3052 0.7158H0.3726Z"/></g>
<g transform="translate(0,787.50) scale(1,1.0407)"><text x="504.27 536.46 548.44 572.77" y="0" font-size="37">T(K)</text></g>
<g transform="translate(26.2,480) rotate(-90)"><g transform="translate(0,0.00) scale(1,1.0407)"><text x="-2.97 37.70 49.99 70.35 100.73 121.10 131.38 161.77 182.13 200.69 229.08 249.44" y="0" font-size="36.2">M(emu/molOe)</text></g></g>
<path d="M171.5 463.4H251.5" stroke="#000" stroke-width="1.5"/>
<rect x="204.0" y="455.9" width="15" height="15" rx="1.2" fill="#002952"/>
<path d="M171.5 508.3H251.5" stroke="#f00" stroke-width="1.5"/>
<circle cx="211.5" cy="508.3" r="8.5" fill="#002952"/>
<path d="M172 553.2H251" stroke="#00ff00" stroke-width="5.5" stroke-linecap="round"/>
<path d="M172 608.0H251" stroke="#ff0000" stroke-width="5.5" stroke-linecap="round"/>
<path d="M172 652.8H251" stroke="#0000ff" stroke-width="5.5" stroke-linecap="round"/>
<g transform="translate(0,476.00) scale(1,1.0407)"><text x="260.78" y="0" font-size="36.8">H</text></g>
<path d="M287.3 474.9H310M298.65 474.9V452" stroke="#000" stroke-width="1.8" fill="none"/>
<g transform="translate(0,476.00) scale(1,1.0407)"><text x="310.28" y="0" font-size="36.8">b</text></g>
<g transform="translate(0,520.60) scale(1,1.0407)"><text x="260.78 286.85 296.56 306.28" y="0" font-size="36.8">H//b</text></g>
<g transform="translate(0,565.60) scale(1,1.0407)"><text x="260.68" y="0" font-size="36.8">M</text></g>
<g transform="translate(0,577.70) scale(1,1.0407)"><text x="290.48 302.96" y="0" font-size="22">bf</text></g>
<g transform="translate(0,620.90) scale(1,1.0407)"><text x="260.68 282.76 290.55" y="0" font-size="36.8">Fit</text></g>
<g transform="translate(0,665.30) scale(1,1.0407)"><text x="260.68" y="0" font-size="36.8">M</text></g>
<g transform="translate(0,678.20) scale(1,1.0407)"><text x="290.47 300.56" y="0" font-size="22">cw</text></g>
<rect x="589.5" y="20.9" width="356.60" height="218.60" fill="#fff" stroke="#000" stroke-width="1.5"/>
<path d="M615.10 239.50V235.90M615.10 20.90V24.50M640.57 239.50V237.10M640.57 20.90V23.30M666.04 239.50V235.90M666.04 20.90V24.50M691.51 239.50V237.10M691.51 20.90V23.30M716.98 239.50V235.90M716.98 20.90V24.50M742.45 239.50V237.10M742.45 20.90V23.30M767.92 239.50V235.90M767.92 20.90V24.50M793.39 239.50V237.10M793.39 20.90V23.30M818.86 239.50V235.90M818.86 20.90V24.50M844.33 239.50V237.10M844.33 20.90V23.30M869.80 239.50V235.90M869.80 20.90V24.50M895.27 239.50V237.10M895.27 20.90V23.30M920.74 239.50V235.90M920.74 20.90V24.50" stroke="#000" stroke-width="1.2" fill="none"/>
<g transform="translate(0,255.50) scale(1,1.0407)"><text x="599.44 607.39 615.35 623.30" y="0" font-size="14.3" font-weight="bold">2900</text></g>
<g transform="translate(0,255.50) scale(1,1.0407)"><text x="650.46 658.42 666.37 674.32" y="0" font-size="14.3" font-weight="bold">3000</text></g>
<g transform="translate(0,255.50) scale(1,1.0407)"><text x="701.40 717.31 725.26" y="0" font-size="14.3" font-weight="bold">300</text><path transform="translate(709.36,0) scale(14.300,-14.300)" d="M0.4111 0H0.2739V0.5171Q0.1987 0.4468 0.0967 0.4131V0.5376Q0.1504 0.5552 0.2134 0.6045Q0.2764 0.6538 0.2998 0.7188H0.4111Z"/></g>
<g transform="translate(0,255.50) scale(1,1.0407)"><text x="752.34 760.30 768.25 776.20" y="0" font-size="14.3" font-weight="bold">3200</text></g>
<g transform="translate(0,255.50) scale(1,1.0407)"><text x="803.28 811.24 819.19 827.14" y="0" font-size="14.3" font-weight="bold">3300</text></g>
<g transform="translate(0,255.50) scale(1,1.0407)"><text x="854.22 862.18 870.13 878.08" y="0" font-size="14.3" font-weight="bold">3400</text></g>
<g transform="translate(0,255.50) scale(1,1.0407)"><text x="905.16 913.12 921.07 929.02" y="0" font-size="14.3" font-weight="bold">3500</text></g>
<g transform="translate(0,277.60) scale(1,1.0407)"><text x="749.76 769.50 776.02 791.45 802.44" y="0" font-size="20" font-weight="bold">H(Oe)</text></g>
<g transform="translate(573.8,202.6) rotate(-90)"><g transform="translate(0,0.00) scale(1,1.0407)"><text x="-0.82 11.50 24.95 30.61 42.94 63.15 69.92 81.15 89.04 101.36 107.03 119.35 131.67 137.34 144.11 155.34" y="0" font-size="20" font-weight="bold">dP/dH(arb.units)</text></g></g>
<g transform="translate(0,62.50) scale(1,1.0407)"><text x="616.41 627.34 643.64" y="0" font-size="20" font-weight="bold">20K</text></g>
<g transform="translate(0,62.50) scale(1,1.0407)"><text x="674.46 687.61 700.77" y="0" font-size="20" font-weight="bold">ESR</text></g>
<g transform="translate(0,62.50) scale(1,1.0407)"><text x="797.18 809.38 821.04 832.15 837.69 848.79 859.90" y="0" font-size="20" font-weight="bold">g=2.096</text></g>
<path d="M615.10 129.24 L615.61 129.24 L616.12 129.24 L616.63 129.24 L617.14 129.24 L617.65 129.24 L618.16 129.24 L618.67 129.24 L619.18 129.23 L619.68 129.23 L620.19 129.23 L620.70 129.23 L621.21 129.23 L621.72 129.23 L622.23 129.23 L622.74 129.23 L623.25 129.22 L623.76 129.22 L624.27 129.22 L624.78 129.22 L625.29 129.22 L625.80 129.22 L626.31 129.22 L626.82 129.22 L627.33 129.21 L627.84 129.21 L628.34 129.21 L628.85 129.21 L629.36 129.21 L629.87 129.21 L630.38 129.21 L630.89 129.20 L631.40 129.20 L631.91 129.20 L632.42 129.20 L632.93 129.20 L633.44 129.20 L633.95 129.19 L634.46 129.19 L634.97 129.19 L635.48 129.19 L635.99 129.19 L636.49 129.18 L637.00 129.18 L637.51 129.18 L638.02 129.18 L638.53 129.18 L639.04 129.17 L639.55 129.17 L640.06 129.17 L640.57 129.17 L641.08 129.17 L641.59 129.16 L642.10 129.16 L642.61 129.16 L643.12 129.16 L643.63 129.15 L644.14 129.15 L644.65 129.15 L645.15 129.15 L645.66 129.14 L646.17 129.14 L646.68 129.14 L647.19 129.13 L647.70 129.13 L648.21 129.13 L648.72 129.13 L649.23 129.12 L649.74 129.12 L650.25 129.12 L650.76 129.11 L651.27 129.11 L651.78 129.11 L652.29 129.10 L652.80 129.10 L653.31 129.10 L653.81 129.09 L654.32 129.09 L654.83 129.08 L655.34 129.08 L655.85 129.08 L656.36 129.07 L656.87 129.07 L657.38 129.06 L657.89 129.06 L658.40 129.06 L658.91 129.05 L659.42 129.05 L659.93 129.04 L660.44 129.04 L660.95 129.03 L661.46 129.03 L661.96 129.02 L662.47 129.02 L662.98 129.01 L663.49 129.01 L664.00 129.00 L664.51 129.00 L665.02 128.99 L665.53 128.98 L666.04 128.98 L666.55 128.97 L667.06 128.97 L667.57 128.96 L668.08 128.95 L668.59 128.95 L669.10 128.94 L669.61 128.93 L670.12 128.92 L670.62 128.92 L671.13 128.91 L671.64 128.90 L672.15 128.89 L672.66 128.89 L673.17 128.88 L673.68 128.87 L674.19 128.86 L674.70 128.85 L675.21 128.84 L675.72 128.83 L676.23 128.82 L676.74 128.81 L677.25 128.80 L677.76 128.79 L678.27 128.78 L678.77 128.77 L679.28 128.76 L679.79 128.75 L680.30 128.74 L680.81 128.72 L681.32 128.71 L681.83 128.70 L682.34 128.69 L682.85 128.67 L683.36 128.66 L683.87 128.65 L684.38 128.63 L684.89 128.62 L685.40 128.60 L685.91 128.59 L686.42 128.57 L686.93 128.55 L687.43 128.54 L687.94 128.52 L688.45 128.50 L688.96 128.48 L689.47 128.46 L689.98 128.44 L690.49 128.42 L691.00 128.40 L691.51 128.38 L692.02 128.36 L692.53 128.34 L693.04 128.31 L693.55 128.29 L694.06 128.26 L694.57 128.24 L695.08 128.21 L695.59 128.18 L696.09 128.16 L696.60 128.13 L697.11 128.10 L697.62 128.07 L698.13 128.03 L698.64 128.00 L699.15 127.97 L699.66 127.93 L700.17 127.90 L700.68 127.86 L701.19 127.82 L701.70 127.78 L702.21 127.74 L702.72 127.70 L703.23 127.65 L703.74 127.61 L704.25 127.56 L704.75 127.51 L705.26 127.46 L705.77 127.41 L706.28 127.35 L706.79 127.30 L707.30 127.24 L707.81 127.18 L708.32 127.12 L708.83 127.05 L709.34 126.98 L709.85 126.91 L710.36 126.84 L710.87 126.76 L711.38 126.69 L711.89 126.60 L712.40 126.52 L712.90 126.43 L713.41 126.34 L713.92 126.24 L714.43 126.15 L714.94 126.04 L715.45 125.93 L715.96 125.82 L716.47 125.71 L716.98 125.58 L717.49 125.46 L718.00 125.32 L718.51 125.19 L719.02 125.04 L719.53 124.89 L720.04 124.73 L720.55 124.57 L721.06 124.40 L721.56 124.22 L722.07 124.03 L722.58 123.83 L723.09 123.62 L723.60 123.41 L724.11 123.18 L724.62 122.94 L725.13 122.69 L725.64 122.43 L726.15 122.16 L726.66 121.87 L727.17 121.57 L727.68 121.25 L728.19 120.91 L728.70 120.56 L729.21 120.19 L729.72 119.80 L730.22 119.39 L730.73 118.96 L731.24 118.51 L731.75 118.03 L732.26 117.52 L732.77 116.99 L733.28 116.42 L733.79 115.83 L734.30 115.20 L734.81 114.54 L735.32 113.84 L735.83 113.10 L736.34 112.32 L736.85 111.49 L737.36 110.62 L737.87 109.69 L738.37 108.72 L738.88 107.68 L739.39 106.59 L739.90 105.43 L740.41 104.21 L740.92 102.92 L741.43 101.55 L741.94 100.10 L742.45 98.57 L742.96 96.95 L743.47 95.23 L743.98 93.41 L744.49 91.49 L745.00 89.45 L745.51 87.29 L746.02 85.00 L746.53 82.57 L747.03 80.00 L747.54 77.29 L748.05 74.43 L748.56 71.42 L749.07 68.27 L749.58 65.00 L750.09 61.63 L750.60 58.21 L751.11 54.77 L751.62 51.38 L752.13 48.13 L752.64 45.12 L753.15 42.46 L753.66 40.27 L754.17 38.71 L754.68 37.91 L755.18 38.04 L755.69 39.22 L756.20 41.57 L756.71 45.21 L757.22 50.19 L757.73 56.53 L758.24 64.20 L758.75 73.13 L759.26 83.17 L759.77 94.14 L760.28 105.80 L760.79 117.91 L761.30 130.16 L761.81 142.27 L762.32 153.96 L762.83 164.97 L763.34 175.08 L763.84 184.10 L764.35 191.91 L764.86 198.44 L765.37 203.65 L765.88 207.59 L766.39 210.30 L766.90 211.90 L767.41 212.49 L767.92 212.21 L768.43 211.19 L768.94 209.59 L769.45 207.52 L769.96 205.11 L770.47 202.47 L770.98 199.67 L771.49 196.80 L772.00 193.92 L772.50 191.07 L773.01 188.28 L773.52 185.58 L774.03 182.97 L774.54 180.48 L775.05 178.10 L775.56 175.83 L776.07 173.67 L776.58 171.61 L777.09 169.66 L777.60 167.81 L778.11 166.04 L778.62 164.36 L779.13 162.77 L779.64 161.25 L780.15 159.81 L780.65 158.44 L781.16 157.13 L781.67 155.90 L782.18 154.72 L782.69 153.60 L783.20 152.54 L783.71 151.53 L784.22 150.57 L784.73 149.66 L785.24 148.79 L785.75 147.97 L786.26 147.19 L786.77 146.45 L787.28 145.74 L787.79 145.07 L788.30 144.43 L788.81 143.83 L789.31 143.25 L789.82 142.70 L790.33 142.18 L790.84 141.69 L791.35 141.22 L791.86 140.77 L792.37 140.34 L792.88 139.93 L793.39 139.54 L793.90 139.17 L794.41 138.81 L794.92 138.47 L795.43 138.15 L795.94 137.84 L796.45 137.55 L796.96 137.27 L797.47 137.00 L797.97 136.74 L798.48 136.49 L798.99 136.26 L799.50 136.03 L800.01 135.82 L800.52 135.61 L801.03 135.41 L801.54 135.22 L802.05 135.03 L802.56 134.86 L803.07 134.69 L803.58 134.53 L804.09 134.37 L804.60 134.22 L805.11 134.08 L805.62 133.94 L806.12 133.81 L806.63 133.68 L807.14 133.56 L807.65 133.44 L808.16 133.32 L808.67 133.21 L809.18 133.11 L809.69 133.01 L810.20 132.91 L810.71 132.81 L811.22 132.72 L811.73 132.63 L812.24 132.55 L812.75 132.46 L813.26 132.38 L813.77 132.31 L814.28 132.23 L814.78 132.16 L815.29 132.09 L815.80 132.02 L816.31 131.96 L816.82 131.89 L817.33 131.83 L817.84 131.77 L818.35 131.72 L818.86 131.66 L819.37 131.61 L819.88 131.55 L820.39 131.50 L820.90 131.45 L821.41 131.41 L821.92 131.36 L822.43 131.32 L822.94 131.27 L823.44 131.23 L823.95 131.19 L824.46 131.15 L824.97 131.11 L825.48 131.07 L825.99 131.04 L826.50 131.00 L827.01 130.97 L827.52 130.93 L828.03 130.90 L828.54 130.87 L829.05 130.84 L829.56 130.81 L830.07 130.78 L830.58 130.75 L831.09 130.72 L831.60 130.69 L832.10 130.67 L832.61 130.64 L833.12 130.62 L833.63 130.59 L834.14 130.57 L834.65 130.55 L835.16 130.52 L835.67 130.50 L836.18 130.48 L836.69 130.46 L837.20 130.44 L837.71 130.42 L838.22 130.40 L838.73 130.38 L839.24 130.36 L839.75 130.34 L840.25 130.33 L840.76 130.31 L841.27 130.29 L841.78 130.27 L842.29 130.26 L842.80 130.24 L843.31 130.23 L843.82 130.21 L844.33 130.20 L844.84 130.18 L845.35 130.17 L845.86 130.16 L846.37 130.14 L846.88 130.13 L847.39 130.12 L847.90 130.10 L848.41 130.09 L848.91 130.08 L849.42 130.07 L849.93 130.06 L850.44 130.04 L850.95 130.03 L851.46 130.02 L851.97 130.01 L852.48 130.00 L852.99 129.99 L853.50 129.98 L854.01 129.97 L854.52 129.96 L855.03 129.95 L855.54 129.94 L856.05 129.93 L856.56 129.93 L857.07 129.92 L857.57 129.91 L858.08 129.90 L858.59 129.89 L859.10 129.88 L859.61 129.88 L860.12 129.87 L860.63 129.86 L861.14 129.85 L861.65 129.85 L862.16 129.84 L862.67 129.83 L863.18 129.83 L863.69 129.82 L864.20 129.81 L864.71 129.81 L865.22 129.80 L865.72 129.79 L866.23 129.79 L866.74 129.78 L867.25 129.77 L867.76 129.77 L868.27 129.76 L868.78 129.76 L869.29 129.75 L869.80 129.75 L870.31 129.74 L870.82 129.74 L871.33 129.73 L871.84 129.72 L872.35 129.72 L872.86 129.71 L873.37 129.71 L873.88 129.71 L874.38 129.70 L874.89 129.70 L875.40 129.69 L875.91 129.69 L876.42 129.68 L876.93 129.68 L877.44 129.67 L877.95 129.67 L878.46 129.67 L878.97 129.66 L879.48 129.66 L879.99 129.65 L880.50 129.65 L881.01 129.65 L881.52 129.64 L882.03 129.64 L882.54 129.64 L883.04 129.63 L883.55 129.63 L884.06 129.62 L884.57 129.62 L885.08 129.62 L885.59 129.61 L886.10 129.61 L886.61 129.61 L887.12 129.61 L887.63 129.60 L888.14 129.60 L888.65 129.60 L889.16 129.59 L889.67 129.59 L890.18 129.59 L890.69 129.58 L891.19 129.58 L891.70 129.58 L892.21 129.58 L892.72 129.57 L893.23 129.57 L893.74 129.57 L894.25 129.57 L894.76 129.56 L895.27 129.56 L895.78 129.56 L896.29 129.56 L896.80 129.55 L897.31 129.55 L897.82 129.55 L898.33 129.55 L898.84 129.54 L899.35 129.54 L899.85 129.54 L900.36 129.54 L900.87 129.54 L901.38 129.53 L901.89 129.53 L902.40 129.53 L902.91 129.53 L903.42 129.52 L903.93 129.52 L904.44 129.52 L904.95 129.52 L905.46 129.52 L905.97 129.52 L906.48 129.51 L906.99 129.51 L907.50 129.51 L908.00 129.51 L908.51 129.51 L909.02 129.50 L909.53 129.50 L910.04 129.50 L910.55 129.50 L911.06 129.50 L911.57 129.50 L912.08 129.49 L912.59 129.49 L913.10 129.49 L913.61 129.49 L914.12 129.49 L914.63 129.49 L915.14 129.49 L915.65 129.48 L916.16 129.48 L916.66 129.48 L917.17 129.48 L917.68 129.48 L918.19 129.48 L918.70 129.48 L919.21 129.47 L919.72 129.47 L920.23 129.47 L920.74 129.47" stroke="#00ffff" stroke-width="4" fill="none" stroke-linecap="round" stroke-linejoin="round"/>
</svg>
</body></html>
